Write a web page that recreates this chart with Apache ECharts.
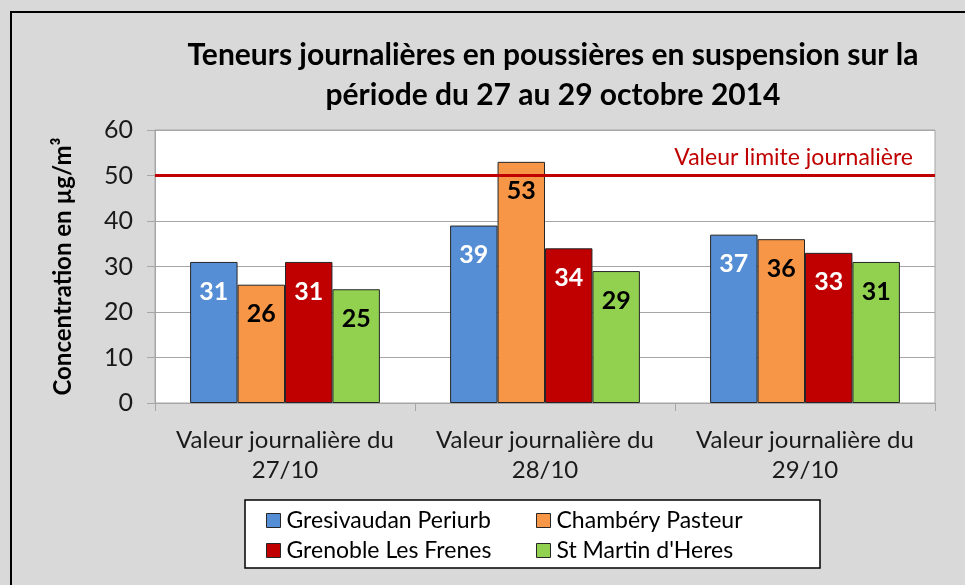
<!DOCTYPE html>
<html>
<head>
<meta charset="utf-8">
<style>
  html, body { margin: 0; padding: 0; background: #d9d9d9; }
  #chart { width: 965px; height: 585px; }
</style>
<script src="https://cdn.jsdelivr.net/npm/echarts@6/dist/echarts.min.js"></script>
</head>
<body>
<div id="chart"></div>
<script>
const categories = ["Valeur journalière du\n27/10", "Valeur journalière du\n28/10", "Valeur journalière du\n29/10"];
const stations = ["Gresivaudan Periurb", "Chambéry Pasteur", "Grenoble Les Frenes", "St Martin d'Heres"];
const gresivaudan = [31, 39, 37];
const chambery = [26, 53, 36];
const grenoble = [31, 34, 33];
const stMartin = [25, 29, 31];
const dailyLimit = 50;
const yTicks = { min: 0, max: 60, interval: 10 };

const font = "Lato, 'Noto Sans', sans-serif";
const colors = ["#558ed5", "#f79646", "#c00000", "#92d050"];
const labelColors = ["#ffffff", "#000000", "#ffffff", "#000000"];
const values = [gresivaudan, chambery, grenoble, stMartin];

const chart = echarts.init(document.getElementById("chart"), null, { renderer: "canvas" });

const series = stations.map((name, i) => ({
  name,
  type: "bar",
  data: values[i],
  barGap: "0%",
  barCategoryGap: "27%",
  itemStyle: { color: colors[i], borderColor: "#262626", borderWidth: 1 },
  label: {
    show: true,
    position: "insideTop",
    distance: 17,
    fontFamily: font,
    fontWeight: "bold",
    fontSize: 25,
    color: labelColors[i]
  },
  markLine: i === 0 ? {
    silent: true,
    symbol: "none",
    lineStyle: { color: "#c00000", width: 3, type: "solid" },
    label: {
      position: "insideEndTop",
      distance: [22, 6],
      formatter: "Valeur limite journalière",
      fontFamily: font,
      fontSize: 23,
      color: "#c00000"
    },
    data: [{ yAxis: dailyLimit }]
  } : undefined
}));

const legendBase = {
  orient: "vertical",
  top: 504,
  itemWidth: 14, itemHeight: 14, itemGap: 7,
  icon: "rect",
  itemStyle: { borderColor: "#262626", borderWidth: 1 },
  textStyle: { fontFamily: font, fontSize: 23, color: "#000", padding: [0, 0, 0, 1] }
};

chart.setOption({
  animation: false,
  backgroundColor: "#d9d9d9",
  textStyle: { fontFamily: font },
  title: {
    text: "Teneurs journalières en poussières en suspension sur la\npériode du 27 au 29 octobre 2014",
    left: 548,
    top: 30,
    textAlign: "center",
    textStyle: { fontFamily: font, fontWeight: "bold", fontSize: 30, lineHeight: 40, color: "#000" }
  },
  grid: {
    left: 155, right: 30, top: 130, bottom: 182,
    show: true, backgroundColor: "#ffffff", borderColor: "#a6a6a6", borderWidth: 1
  },
  legend: [
    Object.assign({ data: [stations[0], stations[2]], left: 261 }, legendBase),
    Object.assign({ data: [stations[1], stations[3]], left: 531 }, legendBase)
  ],
  xAxis: {
    type: "category",
    data: categories,
    axisLine: { lineStyle: { color: "#a6a6a6" } },
    axisTick: { show: true, length: 8, lineStyle: { color: "#a6a6a6" } },
    axisLabel: { interval: 0, fontFamily: font, fontSize: 24, lineHeight: 30, color: "#1a1a1a", margin: 22 }
  },
  yAxis: {
    type: "value",
    min: yTicks.min, max: yTicks.max, interval: yTicks.interval,
    name: "Concentration en µg/m³",
    nameLocation: "middle",
    nameGap: 80,
    nameTextStyle: { fontFamily: font, fontWeight: "bold", fontSize: 24, color: "#000" },
    axisLine: { show: true, lineStyle: { color: "#a6a6a6" } },
    axisTick: { show: true, length: 8, lineStyle: { color: "#a6a6a6" } },
    axisLabel: { fontFamily: font, fontSize: 25, color: "#1a1a1a", margin: 22 },
    splitLine: { lineStyle: { color: "#a6a6a6", width: 1 } }
  },
  graphic: [
    {
      type: "rect",
      z: -1,
      shape: { x: 11, y: 12, width: 1000, height: 700 },
      style: { fill: "none", stroke: "#000", lineWidth: 2 }
    },
    {
      type: "rect",
      z: 0,
      shape: { x: 245, y: 500, width: 575, height: 68 },
      style: { fill: "#ffffff", stroke: "#000", lineWidth: 1.5 }
    }
  ],
  series
});
</script>
</body>
</html>
